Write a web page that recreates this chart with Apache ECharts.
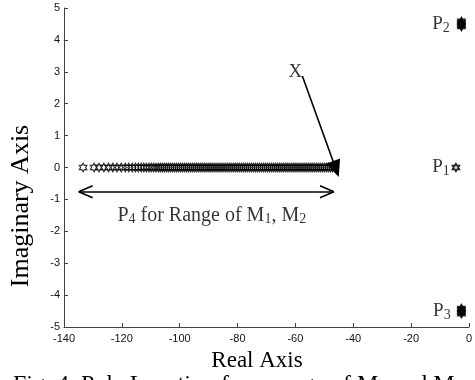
<!DOCTYPE html>
<html><head><meta charset="utf-8">
<script src="https://cdn.jsdelivr.net/npm/echarts@6/dist/echarts.min.js"></script>
<style>html,body{margin:0;padding:0;background:#fff}#c{width:475px;height:380px}</style>
</head><body><div id="c"></div>
<script>
// ---- data ----
const xTicks = { min: -140, max: 0, interval: 20 };
const yTicks = { min: -5, max: 5, interval: 1 };
// P4 poles on the real axis (real parts), imaginary part 0
const p4Real = [-133.4,-129.6,-127.9,-126.2,-124.6,-123.1,-121.7,-120.2,-118.8,-117.6,-116.4,-115.3,-114.3,-113.3,-112.4,-111.5,-110.6,-109.8,-109.0,-108.2,-107.4,-106.7,-106.0,-105.3,-104.6,-103.9,-103.2,-102.5,-101.8,-101.1,-100.4,-99.7,-99.0,-98.3,-97.6,-96.9,-96.2,-95.5,-94.8,-94.1,-93.4,-92.7,-92.0,-91.3,-90.6,-89.9,-89.2,-88.5,-87.8,-87.1,-86.4,-85.7,-85.0,-84.3,-83.6,-82.9,-82.2,-81.5,-80.8,-80.1,-79.4,-78.7,-78.0,-77.3,-76.6,-75.9,-75.2,-74.5,-73.8,-73.1,-72.4,-71.7,-71.0,-70.3,-69.6,-68.9,-68.2,-67.5,-66.8,-66.1,-65.4,-64.7,-64.0,-63.3,-62.6,-61.9,-61.2,-60.5,-59.8,-59.1,-58.4,-57.7,-57.0,-56.3,-55.6,-54.9,-54.2,-53.5,-52.8,-52.1,-51.4,-50.7,-50.0,-49.3,-48.6,-47.9,-47.2];
const p1 = [[-4.5, 0]];
const p2Real = [-2.6, -2.6, -2.6, -2.6, -2.6];
const p2Imag = [4.42, 4.46, 4.5, 4.54, 4.58];
const p3Real = [-2.6, -2.6, -2.6, -2.6, -2.6];
const p3Imag = [-4.42, -4.46, -4.5, -4.54, -4.58];
// annotations (data coordinates)
const labelItems = [
  { pos: [-12.7, 4.5], sub: '2' },
  { pos: [-12.7, 0], sub: '1' },
  { pos: [-12.4, -4.5], sub: '3' }
];
const xLabelPos = [-60, 3.0];
const rangeTextPos = [-88.9, -1.51];
const arrowX = { from: [-57.6, 2.87], to: [-46.0, -0.05] };
const rangeArrow = { y: -0.76, left: -134.9, right: -46.7, arm: 4.8, spread: 0.19 };

const hex = 'path://M50,0 L64.4,25 L93.3,25 L78.9,50 L93.3,75 L64.4,75 L50,100 L35.6,75 L6.7,75 L21.1,50 L6.7,25 L35.6,25 Z';
const serif = 'Liberation Serif';

const chart = echarts.init(document.getElementById('c'), null, { renderer: 'canvas' });

const ra = rangeArrow;
const seg = (a, b) => [{ coord: a, symbol: 'none' }, { coord: b, symbol: 'none' }];

chart.setOption({
  animation: false,
  grid: { left: 64, right: 2, top: 8, bottom: 53 },
  xAxis: {
    type: 'value', min: xTicks.min, max: xTicks.max, interval: xTicks.interval,
    splitLine: { show: false },
    axisLine: { onZero: false, lineStyle: { color: '#444', width: 1 } },
    axisTick: { inside: true, length: 4, lineStyle: { color: '#444' } },
    axisLabel: { color: '#111', fontFamily: 'Liberation Sans', fontSize: 11, margin: 6 }
  },
  yAxis: {
    type: 'value', min: yTicks.min, max: yTicks.max, interval: yTicks.interval,
    splitLine: { show: false },
    axisLine: { show: true, onZero: false, lineStyle: { color: '#444', width: 1 } },
    axisTick: { show: true, inside: true, length: 4, lineStyle: { color: '#444' } },
    axisLabel: { color: '#111', fontFamily: 'Liberation Sans', fontSize: 11, margin: 4 }
  },
  series: [
    {
      type: 'scatter', symbol: hex, symbolSize: [7.5, 8.5],
      itemStyle: { color: 'rgba(255,255,255,0)', borderColor: '#000', borderWidth: 1.2 },
      data: p4Real.map(v => [v, 0]),
      markLine: {
        silent: true, animation: false,
        lineStyle: { color: '#000', width: 1.6, type: 'solid' },
        label: { show: false },
        data: [
          seg([ra.left, ra.y], [ra.right, ra.y]),
          seg([ra.left, ra.y], [ra.left + ra.arm, ra.y + ra.spread]),
          seg([ra.left, ra.y], [ra.left + ra.arm, ra.y - ra.spread]),
          seg([ra.right, ra.y], [ra.right - ra.arm, ra.y + ra.spread]),
          seg([ra.right, ra.y], [ra.right - ra.arm, ra.y - ra.spread]),
          [{ coord: arrowX.from, symbol: 'none' }, { coord: arrowX.to, symbol: 'triangle', symbolSize: [15, 17] }]
        ]
      }
    },
    {
      type: 'scatter', symbol: hex, symbolSize: [8, 9],
      itemStyle: { color: '#000', borderColor: '#000', borderWidth: 1 },
      data: p1
    },
    {
      type: 'scatter', symbol: 'circle', symbolSize: 3,
      itemStyle: { color: '#fff' },
      data: p1
    },
    {
      type: 'scatter', symbol: hex, symbolSize: [8, 9],
      itemStyle: { color: '#000', borderColor: '#000', borderWidth: 1 },
      data: p2Real.map((v, i) => [v, p2Imag[i]]).concat(p3Real.map((v, i) => [v, p3Imag[i]]))
    },
    {
      type: 'scatter', symbolSize: 0, silent: true,
      data: labelItems.map(d => ({ value: d.pos, sub: d.sub })),
      label: {
        show: true, position: 'right', distance: 0,
        formatter: p => '{m|P}{s|' + p.data.sub + '}',
        rich: {
          m: { fontFamily: serif, fontSize: 19, color: '#000' },
          s: { fontFamily: serif, fontSize: 14, color: '#000', padding: [8, 0, 0, 0] }
        }
      }
    },
    {
      type: 'scatter', symbolSize: 0, silent: true,
      data: [{ value: xLabelPos }],
      label: { show: true, position: 'inside', formatter: 'X', fontFamily: serif, fontSize: 19, color: '#000' }
    },
    {
      type: 'scatter', symbolSize: 0, silent: true,
      data: [{ value: rangeTextPos }],
      label: {
        show: true, position: 'inside',
        formatter: '{m|P}{s|4}{m| for Range of M}{s|1}{m|, M}{s|2}',
        rich: {
          m: { fontFamily: serif, fontSize: 20, color: '#000' },
          s: { fontFamily: serif, fontSize: 14, color: '#000', padding: [8, 0, 0, 0] }
        }
      }
    }
  ],
  graphic: [
    { type: 'text', x: 257, y: 361, style: { text: 'Real Axis', fontFamily: serif, fontSize: 23, fill: '#000', align: 'center', verticalAlign: 'middle' } },
    { type: 'text', x: 21, y: 206, rotation: Math.PI / 2, style: { text: 'Imaginary Axis', fontFamily: serif, fontSize: 26, fill: '#000', align: 'center', verticalAlign: 'middle' } },
    { type: 'text', x: 13, y: 373, style: { text: 'Fig. 4. Pole Location for a range of M\u2081 and M\u2082', fontFamily: serif, fontSize: 24, fill: '#000', align: 'left', verticalAlign: 'top' } }
  ]
});
</script></body></html>
